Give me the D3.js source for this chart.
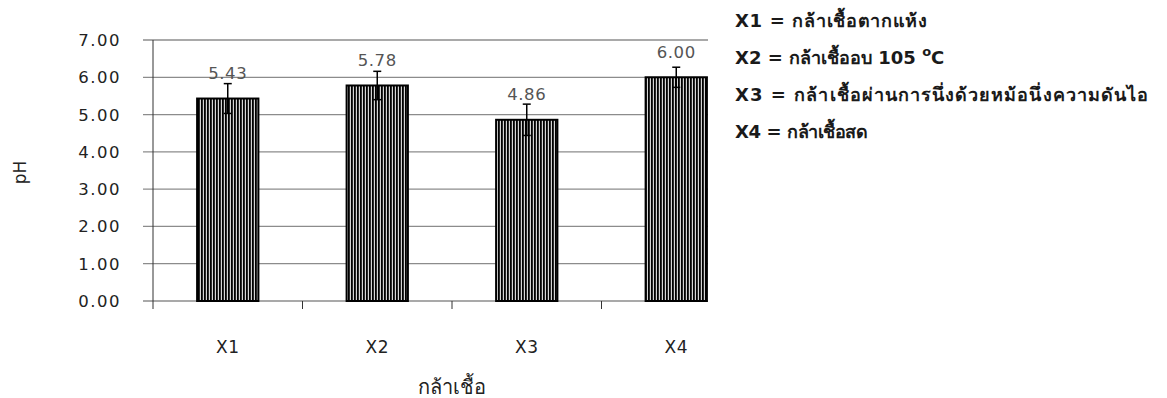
<!DOCTYPE html>
<html>
<head>
<meta charset="utf-8">
<script src="https://cdn.jsdelivr.net/npm/d3@7"></script>
<style>
  html, body { margin: 0; padding: 0; background: #fff; }
  svg { display: block; }
</style>
</head>
<body>
<svg id="chart" width="1167" height="398"></svg>
<script>
// pH of the inoculum under four preparation methods
const categories = ["X1", "X2", "X3", "X4"];
const phMeans = [5.43, 5.78, 4.86, 6.00];
const phErrors = [0.40, 0.38, 0.42, 0.27];
const yTicks = [0, 1, 2, 3, 4, 5, 6, 7];
const legendLines = [
  "X1 = กล้าเชื้อตากแห้ง",
  "X2 = กล้าเชื้ออบ 105 °C",
  "X3 = กล้าเชื้อผ่านการนึ่งด้วยหม้อนึ่งความดันไอ",
  "X4 = กล้าเชื้อสด"
];
const xTitle = "กล้าเชื้อ";
const yTitle = "pH";

const svg = d3.select("#chart");
const font = "'DejaVu Sans', Verdana, sans-serif";

const plotLeft = 153, plotRight = 708, plotTop = 40, plotBottom = 301;
const bandEnd = 751; // category bands run past the visible plot edge

const x = d3.scaleBand()
  .domain(categories)
  .range([plotLeft, bandEnd])
  .paddingInner(0.59)
  .paddingOuter(0.295);
const step = x.step();

const y = d3.scaleLinear().domain([0, 7]).range([plotBottom, plotTop]);

// vertical stripe fill
const defs = svg.append("defs");
const pat = defs.append("pattern")
  .attr("id", "stripes")
  .attr("patternUnits", "userSpaceOnUse")
  .attr("width", 3).attr("height", 10);
pat.append("rect").attr("width", 3).attr("height", 10).attr("fill", "#d4d4d4");
pat.append("rect").attr("width", 1.8).attr("height", 10).attr("fill", "#000");

defs.append("clipPath").attr("id", "plotClip")
  .append("rect")
  .attr("x", plotLeft - 12).attr("y", 0)
  .attr("width", plotRight - plotLeft + 12).attr("height", 398);

const g = svg.append("g").attr("clip-path", "url(#plotClip)");

// horizontal gridlines with outer ticks
g.selectAll("line.grid").data(yTicks).join("line")
  .attr("class", "grid")
  .attr("x1", plotLeft - 10).attr("x2", plotRight)
  .attr("y1", d => y(d)).attr("y2", d => y(d))
  .attr("stroke", "#8c8c8c").attr("stroke-width", 1.3);

// y axis line
g.append("line")
  .attr("x1", plotLeft).attr("x2", plotLeft)
  .attr("y1", plotTop).attr("y2", plotBottom + 8)
  .attr("stroke", "#333").attr("stroke-width", 1);

// category boundary ticks
g.selectAll("line.xtick").data(categories.slice(1)).join("line")
  .attr("class", "xtick")
  .attr("x1", d => x(d) - step * 0.295).attr("x2", d => x(d) - step * 0.295)
  .attr("y1", plotBottom).attr("y2", plotBottom + 8)
  .attr("stroke", "#333").attr("stroke-width", 1);

// bars
g.selectAll("rect.bar").data(phMeans).join("rect")
  .attr("class", "bar")
  .attr("x", (d, i) => x(categories[i]))
  .attr("y", d => y(d))
  .attr("width", x.bandwidth())
  .attr("height", d => y(0) - y(d))
  .attr("fill", "url(#stripes)")
  .attr("stroke", "#000").attr("stroke-width", 2);

// error bars
const eb = g.selectAll("g.err").data(phMeans).join("g").attr("class", "err")
  .attr("transform", (d, i) => `translate(${x(categories[i]) + x.bandwidth() / 2},0)`);
eb.append("line")
  .attr("y1", (d, i) => y(d + phErrors[i])).attr("y2", (d, i) => y(d - phErrors[i]))
  .attr("stroke", "#000").attr("stroke-width", 1.5);
eb.append("line")
  .attr("x1", -4).attr("x2", 4)
  .attr("y1", (d, i) => y(d + phErrors[i])).attr("y2", (d, i) => y(d + phErrors[i]))
  .attr("stroke", "#000").attr("stroke-width", 1.5);
eb.append("line")
  .attr("x1", -4).attr("x2", 4)
  .attr("y1", (d, i) => y(d - phErrors[i])).attr("y2", (d, i) => y(d - phErrors[i]))
  .attr("stroke", "#000").attr("stroke-width", 1.5);

// value labels
g.selectAll("text.val").data(phMeans).join("text")
  .attr("class", "val")
  .attr("x", (d, i) => x(categories[i]) + x.bandwidth() / 2)
  .attr("y", d => y(d) - 19.5)
  .attr("text-anchor", "middle")
  .attr("font-family", font).attr("font-size", 16.5)
  .attr("letter-spacing", 0.6)
  .attr("fill", "#555")
  .text(d => d.toFixed(2));

// y tick labels
svg.selectAll("text.ytick").data(yTicks).join("text")
  .attr("class", "ytick")
  .attr("x", 121).attr("y", d => y(d) + 6)
  .attr("text-anchor", "end")
  .attr("font-family", font).attr("font-size", 16.5)
  .attr("letter-spacing", 1.5)
  .attr("fill", "#222")
  .text(d => d.toFixed(2));

// category labels
svg.selectAll("text.xlab").data(categories).join("text")
  .attr("class", "xlab")
  .attr("x", d => x(d) + x.bandwidth() / 2)
  .attr("y", 353)
  .attr("text-anchor", "middle")
  .attr("font-family", font).attr("font-size", 17)
  .attr("letter-spacing", 0.5)
  .attr("fill", "#222")
  .text(d => d);

// axis titles
svg.append("text")
  .attr("x", (plotLeft + bandEnd) / 2).attr("y", 394)
  .attr("text-anchor", "middle")
  .attr("font-family", font).attr("font-size", 20)
  .attr("fill", "#222")
  .text(xTitle);

svg.append("text")
  .attr("transform", `translate(26,${(plotTop + plotBottom) / 2 + 2}) rotate(-90)`)
  .attr("text-anchor", "middle")
  .attr("font-family", font).attr("font-size", 17)
  .attr("fill", "#222")
  .text(yTitle);

// legend (line widths fitted to the layout column)
const legendWidths = [192, 222, 413, 133];
const leg = svg.selectAll("text.leg").data(legendLines).join("text")
  .attr("class", "leg")
  .attr("x", 735)
  .attr("y", (d, i) => 27 + i * 37)
  .attr("font-family", font).attr("font-size", 18)
  .attr("font-weight", "bold")
  .attr("fill", "#1a1a1a")
  .attr("textLength", (d, i) => legendWidths[i])
  .attr("lengthAdjust", "spacing");
leg.each(function (d) {
  const t = d3.select(this);
  const k = d.indexOf("°");
  if (k < 0) { t.text(d); return; }
  t.attr("textLength", null);
  t.append("tspan").text(d.slice(0, k));
  t.append("tspan").attr("dy", -8).attr("font-size", 13).text("o");
  t.append("tspan").attr("dy", 8).text(d.slice(k + 1));
});
</script>
</body>
</html>
